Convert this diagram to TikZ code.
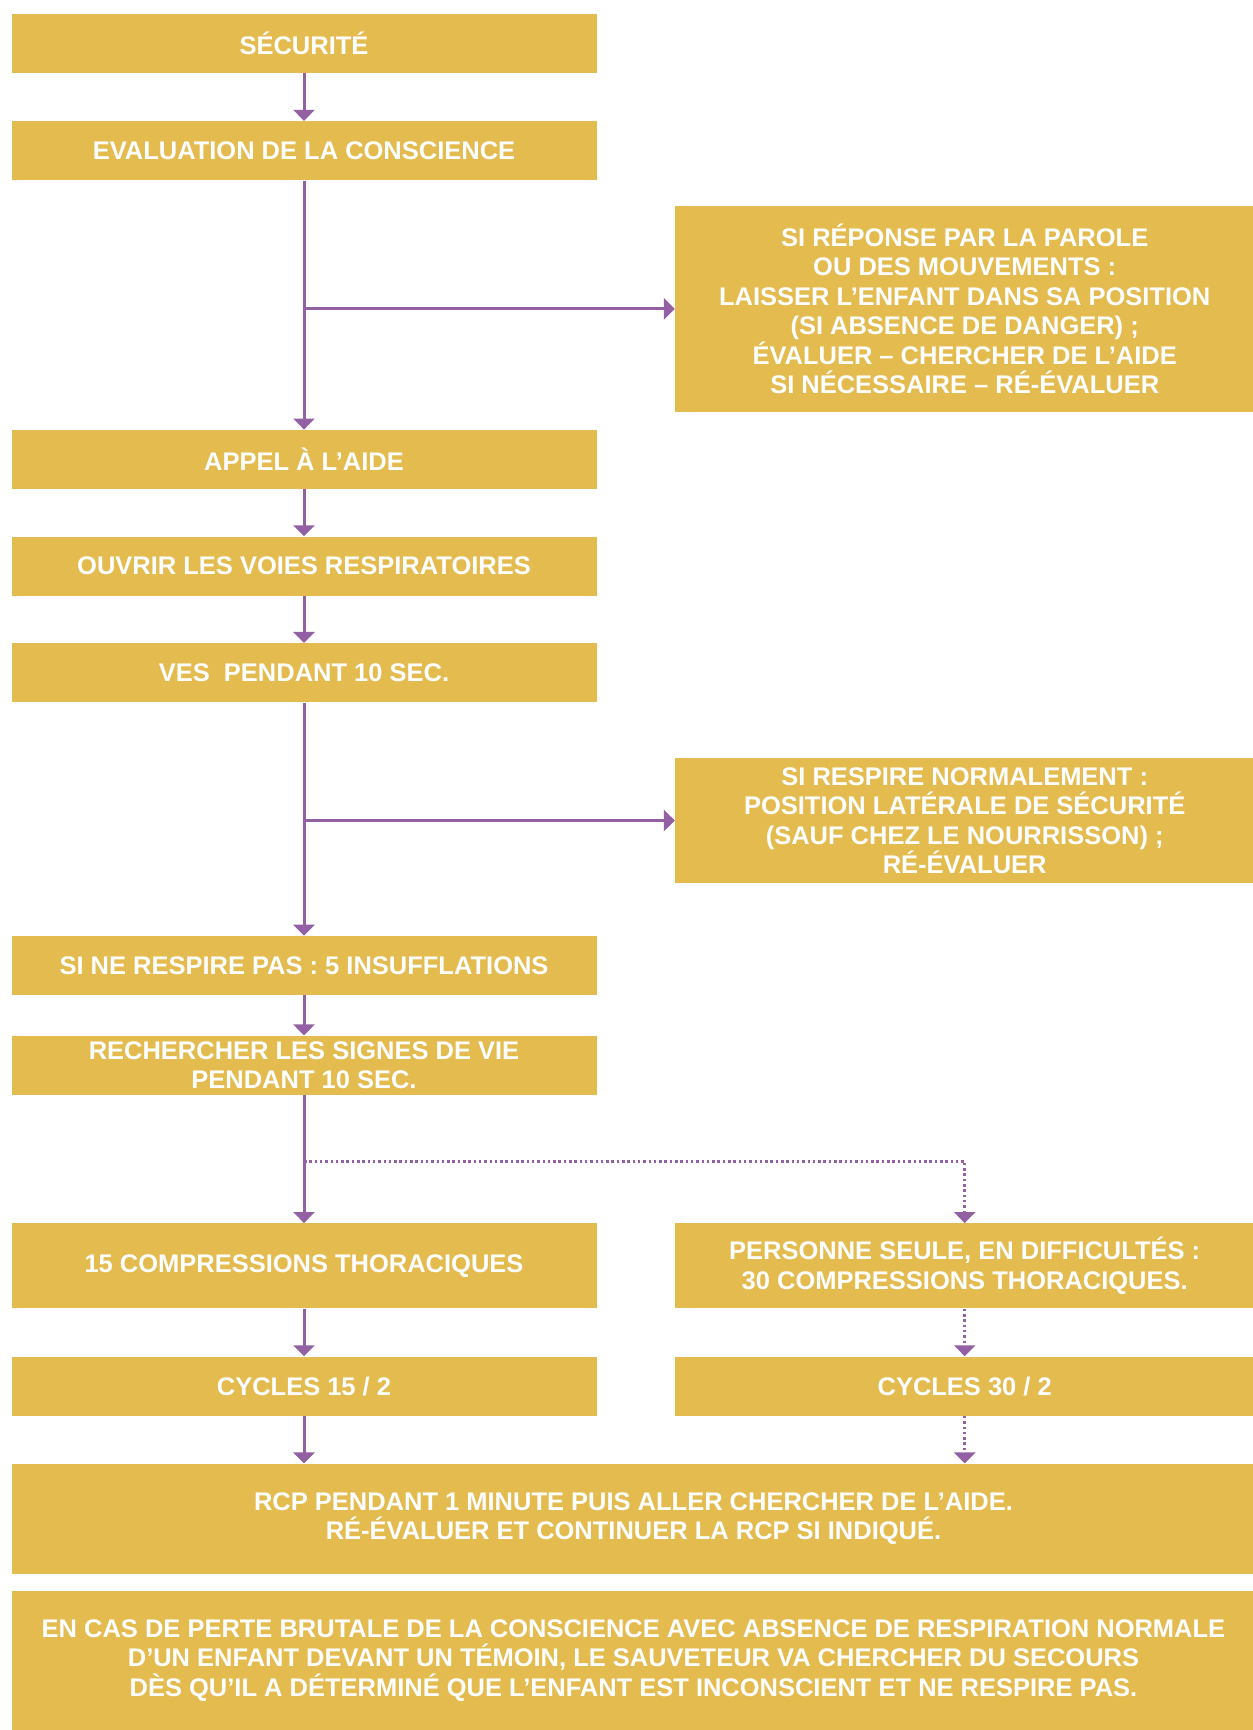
\documentclass[tikz,border=0pt]{standalone}
\usepackage{fontspec}
\setmainfont{Liberation Sans}
\usepackage{xcolor}
\usetikzlibrary{arrows.meta, positioning}

\definecolor{boxyellow}{HTML}{E4BB4F}
\definecolor{linepurple}{HTML}{9360A3}

\begin{document}
\begin{tikzpicture}[
    node distance=0.96cm,
    box/.style={rectangle, fill=boxyellow, text=white, font=\bfseries\fontsize{14.5}{16.8}\selectfont, align=center, minimum width=11.7cm, minimum height=1.18cm, inner sep=0pt},
    side/.style={box, minimum width=11.58cm},
    wide/.style={box, minimum width=24.88cm},
    arrow/.style={-{Triangle[length=0.22cm, width=0.42cm]}, line width=0.06cm, draw=linepurple},
    dotarrow/.style={arrow, line cap=butt, dash pattern=on 0.05cm off 0.056cm}
]
\useasboundingbox (0,0) rectangle (25.06,-34.6);

\node[box] (secu) at (6.08,-0.86) {SÉCURITÉ};
\node[box, below=of secu] (evalc) {EVALUATION DE LA CONSCIENCE};
\node[side, minimum height=4.12cm, below right=0.5cm and 1.56cm of evalc] (parole) {SI RÉPONSE PAR LA PAROLE\\OU DES MOUVEMENTS :\\LAISSER L’ENFANT DANS SA POSITION\\(SI ABSENCE DE DANGER) ;\\ÉVALUER – CHERCHER DE L’AIDE\\SI NÉCESSAIRE – RÉ-ÉVALUER};
\node[box, below=4.98cm of evalc] (appel) {APPEL À L’AIDE};
\node[box, below=0.94cm of appel] (ouvrir) {OUVRIR LES VOIES RESPIRATOIRES};
\node[box, below=0.94cm of ouvrir] (ves) {VES\ \ PENDANT 10 SEC.};
\node[side, minimum height=2.5cm, below right=1.1cm and 1.56cm of ves] (normal) {SI RESPIRE NORMALEMENT :\\POSITION LATÉRALE DE SÉCURITÉ\\(SAUF CHEZ LE NOURRISSON) ;\\RÉ-ÉVALUER};
\node[box, below=4.66cm of ves] (sine) {SI NE RESPIRE PAS : 5 INSUFFLATIONS};
\node[box, below=0.8cm of sine] (rech) {RECHERCHER LES SIGNES DE VIE\\PENDANT 10 SEC.};
\node[box, minimum height=1.7cm, below=2.56cm of rech] (comp15) {15 COMPRESSIONS THORACIQUES};
\node[side, minimum height=1.7cm, right=1.56cm of comp15] (seule) {PERSONNE SEULE, EN DIFFICULTÉS :\\30 COMPRESSIONS THORACIQUES.};
\node[box, below=0.95cm of comp15] (cyc15) {CYCLES 15 / 2};
\node[side, right=1.56cm of cyc15] (cyc30) {CYCLES 30 / 2};
\node[wide, minimum height=2.2cm, below right=0.95cm and 0cm of cyc15.south west] (rcp) {RCP PENDANT 1 MINUTE PUIS ALLER CHERCHER DE L’AIDE.\\RÉ-ÉVALUER ET CONTINUER LA RCP SI INDIQUÉ.};
\node[wide, minimum height=2.8cm, below=0.32cm of rcp] (encas) {EN CAS DE PERTE BRUTALE DE LA CONSCIENCE AVEC ABSENCE DE RESPIRATION NORMALE\\D’UN ENFANT DEVANT UN TÉMOIN, LE SAUVETEUR VA CHERCHER DU SECOURS\\DÈS QU’IL A DÉTERMINÉ QUE L’ENFANT EST INCONSCIENT ET NE RESPIRE PAS.};

\coordinate[below=1.32cm of rech.south] (split);

\draw[arrow] (secu) -- (evalc);
\draw[arrow] (evalc) -- (appel);
\draw[arrow] (evalc.south |- parole.west) -- (parole.west);
\draw[arrow] (appel) -- (ouvrir);
\draw[arrow] (ouvrir) -- (ves);
\draw[arrow] (ves) -- (sine);
\draw[arrow] (ves.south |- normal.west) -- (normal.west);
\draw[arrow] (sine) -- (rech);
\draw[arrow] (rech) -- (comp15);
\draw[dotarrow] (split) -| (seule.north);
\draw[arrow] (comp15) -- (cyc15);
\draw[dotarrow] (seule) -- (cyc30);
\draw[arrow] (cyc15.south) -- (cyc15.south |- rcp.north);
\draw[dotarrow] (cyc30.south) -- (cyc30.south |- rcp.north);

\end{tikzpicture}
\end{document}
